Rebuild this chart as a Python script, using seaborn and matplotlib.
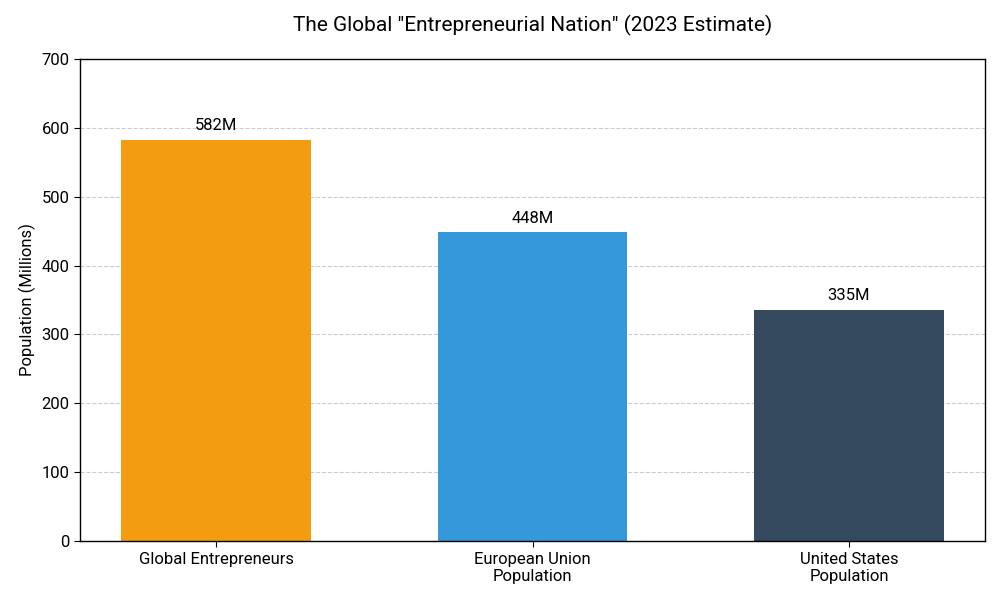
import matplotlib
matplotlib.use('Agg')
import matplotlib.pyplot as plt
import seaborn as sns
import pandas as pd

categories = ['Global Entrepreneurs', 'European Union\nPopulation', 'United States\nPopulation']
population = [582, 448, 335]
bar_colors = ['#F39C12', '#3498DB', '#34495E']

sns.set_style('white', {'text.color': 'black', 'axes.labelcolor': 'black',
                        'xtick.color': 'black', 'ytick.color': 'black'})
plt.rcParams['font.family'] = ['Roboto', 'DejaVu Sans']

df = pd.DataFrame({'category': categories, 'population': population})

fig, ax = plt.subplots(figsize=(10, 6), dpi=100)
sns.barplot(data=df, x='category', y='population', hue='category', palette=bar_colors,
            width=0.6, saturation=1, legend=False, linewidth=0, ax=ax, zorder=2)

for i, v in enumerate(population):
    ax.text(i, v + 10, f'{v}M', ha='center', va='bottom', fontsize=12, color='black')

ax.set_xlim(-0.43, 2.43)
ax.set_ylim(0, 700)
ax.set_title('The Global "Entrepreneurial Nation" (2023 Estimate)', fontsize=15, pad=20, color='black')
ax.set_ylabel('Population (Millions)', fontsize=12)
ax.set_xlabel('')
ax.tick_params(axis='both', labelsize=12, length=4, color='black', bottom=True, left=True)
ax.yaxis.grid(True, linestyle='--', color='#cccccc', linewidth=0.8, zorder=0)
ax.set_axisbelow(True)
for s in ax.spines.values():
    s.set_color('black')
    s.set_linewidth(1)

plt.subplots_adjust(left=0.08, right=0.985, top=0.902, bottom=0.098)
plt.savefig('out.png', dpi=100)
